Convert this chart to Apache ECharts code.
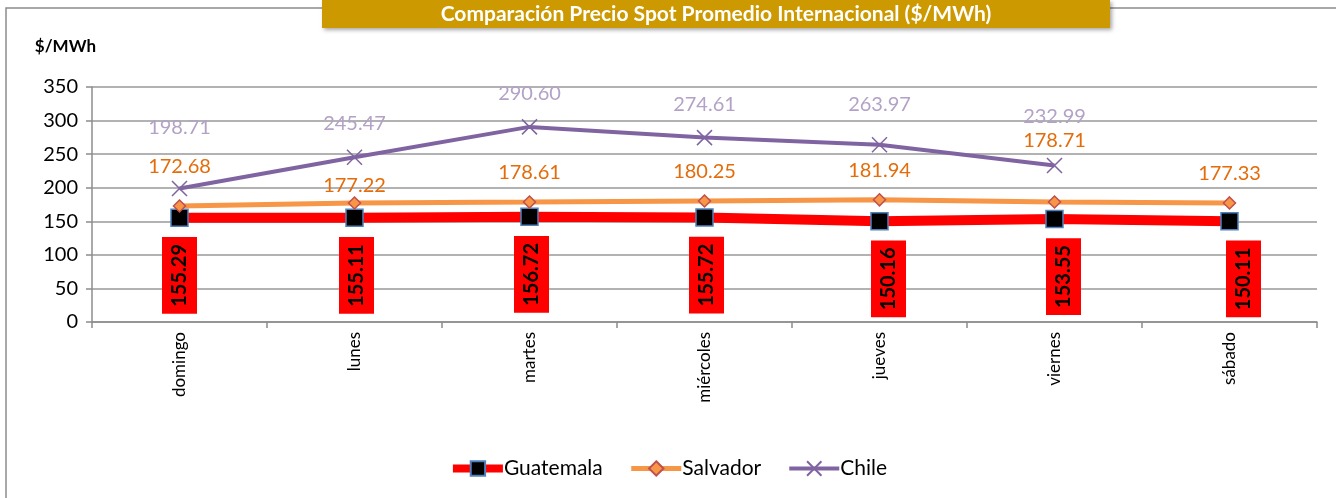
<!DOCTYPE html>
<html>
<head>
<meta charset="utf-8">
<script src="https://cdn.jsdelivr.net/npm/echarts@6/dist/echarts.min.js"></script>
<style>
  html, body { margin: 0; padding: 0; background: #fff; }
  #chart { width: 1336px; height: 498px; }
</style>
</head>
<body>
<div id="chart"></div>
<script>
var categories = ['domingo', 'lunes', 'martes', 'miércoles', 'jueves', 'viernes', 'sábado'];
var guatemala = [155.29, 155.11, 156.72, 155.72, 150.16, 153.55, 150.11];
var salvador = [172.68, 177.22, 178.61, 180.25, 181.94, 178.71, 177.33];
var chile = [198.71, 245.47, 290.60, 274.61, 263.97, 232.99, null];

// small vertical nudges so labels sit where the original put them
var guatemalaNudge = [0, 2, 2, 2, 9, 9, 14];
var salvadorNudge = [-10, 12, 0, 0, 0, -32, 0];
var chileNudge = [-28, 0, 0, 0, -7, -16, 0];

var FONT = 'Lato, "Open Sans", sans-serif';

function withNudge(values, nudge) {
  return values.map(function (v, i) {
    return { value: v, label: { offset: [0, nudge[i]] } };
  });
}

function fmt(p) {
  return p.value == null ? '' : Number(p.value).toFixed(2);
}

var chart = echarts.init(document.getElementById('chart'));

var option = {
  backgroundColor: '#ffffff',
  textStyle: { fontFamily: FONT },
  graphic: [
    {
      type: 'rect',
      shape: { x: 6, y: 8, width: 1340, height: 510 },
      style: { fill: 'none', stroke: '#8c8c8c', lineWidth: 1.5 },
      z: 0
    },
    {
      type: 'rect',
      shape: { x: 322, y: 0, width: 788, height: 28 },
      style: {
        fill: '#CC9900',
        shadowBlur: 4,
        shadowOffsetX: 2,
        shadowOffsetY: 2,
        shadowColor: 'rgba(0,0,0,0.35)'
      },
      z: 10
    },
    {
      type: 'text',
      x: 716,
      y: 14,
      style: {
        text: 'Comparación Precio Spot Promedio Internacional ($/MWh)',
        fill: '#ffffff',
        font: 'bold 21px ' + FONT,
        align: 'center',
        verticalAlign: 'middle'
      },
      z: 11
    }
  ],
  legend: {
    bottom: 14,
    left: 'center',
    itemWidth: 50,
    itemHeight: 18,
    itemGap: 26,
    textStyle: { fontSize: 21, color: '#000', fontFamily: FONT, padding: [0, 0, 0, -4] },
    data: [
      { name: 'Guatemala', lineStyle: { width: 8 } },
      { name: 'Salvador', lineStyle: { width: 5 } },
      { name: 'Chile', lineStyle: { width: 4 } }
    ]
  },
  grid: {
    left: 92,
    right: 19,
    top: 87,
    bottom: 176
  },
  xAxis: {
    type: 'category',
    data: categories,
    boundaryGap: true,
    axisLine: { lineStyle: { color: '#8c8c8c', width: 1.5 } },
    axisTick: { show: true, length: 6, alignWithLabel: false, lineStyle: { color: '#8c8c8c', width: 1.5 } },
    axisLabel: {
      rotate: 90,
      fontSize: 17,
      color: '#000',
      margin: 10,
      fontFamily: FONT
    },
    splitLine: { show: false }
  },
  yAxis: {
    type: 'value',
    min: 0,
    max: 350,
    interval: 50,
    name: '$/MWh',
    nameLocation: 'end',
    nameGap: 32,
    nameTextStyle: {
      fontSize: 17,
      fontWeight: 'bold',
      color: '#000',
      align: 'right',
      padding: [0, -4, 0, 0],
      fontFamily: FONT
    },
    axisLine: { show: true, lineStyle: { color: '#8c8c8c', width: 1.5 } },
    axisTick: { show: true, length: 6, lineStyle: { color: '#8c8c8c', width: 1.5 } },
    axisLabel: { fontSize: 20, color: '#000', margin: 14, fontFamily: FONT },
    splitLine: { show: true, lineStyle: { color: '#999999', width: 1.5 } }
  },
  series: [
    {
      name: 'Guatemala',
      type: 'line',
      data: withNudge(guatemala, guatemalaNudge),
      symbol: 'rect',
      symbolSize: 17,
      lineStyle: { color: '#FF0000', width: 10 },
      itemStyle: { color: '#000000', borderColor: '#4F81BD', borderWidth: 1.5 },
      label: {
        show: true,
        position: 'bottom',
        distance: 10,
        rotate: 90,
        align: 'right',
        verticalAlign: 'middle',
        formatter: fmt,
        color: '#000',
        fontSize: 20,
        fontWeight: 'bold',
        fontFamily: FONT,
        backgroundColor: '#FF0000',
        padding: [8, 7, 7, 7]
      },
      z: 3
    },
    {
      name: 'Salvador',
      type: 'line',
      data: withNudge(salvador, salvadorNudge),
      symbol: 'diamond',
      symbolSize: 12,
      lineStyle: { color: '#F79646', width: 5 },
      itemStyle: { color: '#F79646', borderColor: '#C0504D', borderWidth: 1.5 },
      label: {
        show: true,
        position: 'top',
        distance: 13,
        formatter: fmt,
        color: '#E46C0A',
        fontSize: 20,
        fontFamily: FONT
      },
      z: 4
    },
    {
      name: 'Chile',
      type: 'line',
      data: withNudge(chile, chileNudge),
      symbol: 'path://M0,0L10,10M10,0L0,10',
      symbolSize: 15,
      connectNulls: false,
      lineStyle: { color: '#8064A2', width: 4 },
      itemStyle: { color: '#8064A2', borderColor: '#8064A2', borderWidth: 1.5 },
      label: {
        show: true,
        position: 'top',
        distance: 15,
        formatter: fmt,
        color: '#B3A2C7',
        fontSize: 20,
        fontFamily: FONT
      },
      z: 5
    }
  ]
};

chart.setOption(option);
</script>
</body>
</html>
